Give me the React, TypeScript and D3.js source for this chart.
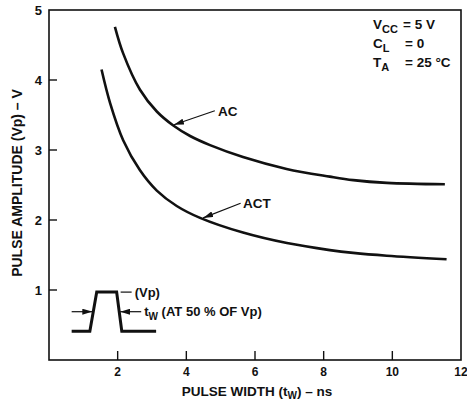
import React, { useEffect, useRef } from 'react';
import * as d3 from 'd3';

// CURVE DATA - PULSE WIDTH (ns) VS PULSE AMPLITUDE (V)
const acWidth = [1.92, 2.16, 2.65, 3.14, 3.62, 4.11, 4.69, 5.65, 6.92, 8.18, 8.86, 9.84, 11.53];
const acAmp = [4.76, 4.38, 3.86, 3.55, 3.35, 3.2, 3.07, 2.9, 2.73, 2.62, 2.57, 2.53, 2.51];
const actWidth = [1.53, 1.78, 2.16, 2.65, 3.14, 3.72, 4.4, 5.65, 6.93, 8.18, 8.86, 9.84, 11.58];
const actAmp = [4.15, 3.67, 3.14, 2.71, 2.42, 2.2, 2.03, 1.82, 1.67, 1.57, 1.53, 1.49, 1.44];

// TICKS
const xTicks = [2, 4, 6, 8, 10, 12];
const yTicks = [1, 2, 3, 4, 5];

// PULSE SKETCH IN THE LOWER LEFT CORNER (DATA UNITS)
const pulseX = [0.66, 1.19, 1.39, 1.97, 2.12, 3.12];
const pulseY = [0.41, 0.41, 0.97, 0.97, 0.41, 0.41];

const FONT = '"Liberation Sans", Arial, Helvetica, sans-serif';

export default function App() {
  const ref = useRef<SVGSVGElement>(null);

  useEffect(() => {
    const W = 467, H = 401;
    const margin = { top: 10, right: 6, bottom: 41, left: 49 };

    const svg = d3.select(ref.current);
    svg.selectAll('*').remove();

    const x = d3.scaleLinear().domain([0, 12]).range([margin.left, W - margin.right]);
    const y = d3.scaleLinear().domain([0, 5]).range([H - margin.bottom, margin.top]);

    // ARROW HEAD MARKER
    svg.append('defs').append('marker')
      .attr('id', 'head')
      .attr('viewBox', '0 0 10 6')
      .attr('refX', 10).attr('refY', 3)
      .attr('markerWidth', 10).attr('markerHeight', 6)
      .attr('markerUnits', 'userSpaceOnUse')
      .attr('orient', 'auto')
      .append('path').attr('d', 'M0,0 L10,3 L0,6 Z').attr('fill', '#111');

    // FRAME
    svg.append('rect')
      .attr('x', x(0)).attr('y', y(5))
      .attr('width', x(12) - x(0)).attr('height', y(0) - y(5))
      .attr('fill', 'none').attr('stroke', '#111').attr('stroke-width', 1.6);

    // TICKS
    svg.append('g').selectAll('line').data(xTicks.filter(d => d < 12)).join('line')
      .attr('x1', d => x(d)).attr('x2', d => x(d))
      .attr('y1', y(0)).attr('y2', y(0) - 9)
      .attr('stroke', '#111').attr('stroke-width', 1.4);
    svg.append('g').selectAll('line').data(yTicks.filter(d => d < 5)).join('line')
      .attr('x1', x(0)).attr('x2', x(0) + 8)
      .attr('y1', d => y(d)).attr('y2', d => y(d))
      .attr('stroke', '#111').attr('stroke-width', 1.4);

    // TICK LABELS
    svg.append('g').selectAll('text').data(xTicks).join('text')
      .attr('x', d => x(d)).attr('y', y(0) + 16)
      .attr('text-anchor', 'middle')
      .attr('font-family', FONT).attr('font-weight', 'bold').attr('font-size', 12)
      .attr('fill', '#111')
      .text(d => d);
    svg.append('g').selectAll('text').data(yTicks).join('text')
      .attr('x', x(0) - 7).attr('y', d => y(d) + 5)
      .attr('text-anchor', 'end')
      .attr('font-family', FONT).attr('font-weight', 'bold').attr('font-size', 13)
      .attr('fill', '#111')
      .text(d => d);

    // AXIS TITLES
    const xt = svg.append('text')
      .attr('x', 257).attr('y', 396)
      .attr('text-anchor', 'middle')
      .attr('font-family', FONT).attr('font-weight', 'bold').attr('font-size', 13.5)
      .attr('fill', '#111');
    xt.append('tspan').text('PULSE WIDTH (t');
    xt.append('tspan').attr('dy', 3).attr('font-size', 10).text('W');
    xt.append('tspan').attr('dy', -3).text(') – ns');

    svg.append('text')
      .attr('transform', 'translate(22,183) rotate(-90)')
      .attr('text-anchor', 'middle')
      .attr('font-family', FONT).attr('font-weight', 'bold').attr('font-size', 14)
      .attr('fill', '#111')
      .text('PULSE AMPLITUDE (Vp) – V');

    // CURVES
    const line = d3.line<[number, number]>()
      .x(d => x(d[0])).y(d => y(d[1]))
      .curve(d3.curveCatmullRom.alpha(0.5));
    const series = [
      acWidth.map((w, i) => [w, acAmp[i]] as [number, number]),
      actWidth.map((w, i) => [w, actAmp[i]] as [number, number]),
    ];
    svg.append('g').selectAll('path').data(series).join('path')
      .attr('d', d => line(d))
      .attr('fill', 'none').attr('stroke', '#111').attr('stroke-width', 2.6);

    // CURVE LABELS WITH ARROWS
    const labels = [
      { text: 'AC', from: [4.83, 3.56], to: [3.64, 3.36], at: [4.92, 3.49] },
      { text: 'ACT', from: [5.58, 2.24], to: [4.49, 2.03], at: [5.65, 2.17] },
    ];
    labels.forEach(l => {
      svg.append('line')
        .attr('x1', x(l.from[0])).attr('y1', y(l.from[1]))
        .attr('x2', x(l.to[0])).attr('y2', y(l.to[1]))
        .attr('stroke', '#111').attr('stroke-width', 1.2)
        .attr('marker-end', 'url(#head)');
      svg.append('text')
        .attr('x', x(l.at[0])).attr('y', y(l.at[1]))
        .attr('font-family', FONT).attr('font-weight', 'bold').attr('font-size', 13.5)
        .attr('fill', '#111')
        .text(l.text);
    });

    // CONDITIONS BLOCK
    const cond = [
      { main: 'V', sub: 'CC', rest: '= 5 V', eq: 403 },
      { main: 'C', sub: 'L', rest: '= 0', eq: 405 },
      { main: 'T', sub: 'A', rest: '= 25 °C', eq: 405 },
    ];
    cond.forEach((c, i) => {
      const t = svg.append('text')
        .attr('x', 373).attr('y', 29 + i * 19)
        .attr('font-family', FONT).attr('font-weight', 'bold').attr('font-size', 13.5)
        .attr('fill', '#111');
      t.append('tspan').text(c.main);
      t.append('tspan').attr('dy', 4).attr('font-size', 11).text(c.sub);
      t.append('tspan').attr('x', c.eq).attr('dy', -4).text(c.rest);
    });

    // PULSE SKETCH
    const pulse = pulseX.map((v, i) => [v, pulseY[i]] as [number, number]);
    svg.append('path')
      .attr('d', d3.line<[number, number]>().x(d => x(d[0])).y(d => y(d[1]))(pulse))
      .attr('fill', 'none').attr('stroke', '#111').attr('stroke-width', 3)
      .attr('stroke-linejoin', 'miter');

    // (Vp) LEADER
    const topY = y(pulseY[2]);
    svg.append('line')
      .attr('x1', x(pulseX[3]) + 4).attr('x2', x(pulseX[3]) + 15)
      .attr('y1', topY).attr('y2', topY)
      .attr('stroke', '#111').attr('stroke-width', 1.2);
    svg.append('text')
      .attr('x', x(pulseX[3]) + 18).attr('y', topY + 5)
      .attr('font-family', FONT).attr('font-weight', 'bold').attr('font-size', 13)
      .attr('fill', '#111')
      .text('(Vp)');

    // WIDTH ARROWS AT 50 %
    const midY = y((pulseY[0] + pulseY[2]) / 2);
    const riseMid = x((pulseX[1] + pulseX[2]) / 2);
    const fallMid = x((pulseX[3] + pulseX[4]) / 2);
    svg.append('line')
      .attr('x1', x(pulseX[0])).attr('x2', riseMid - 1)
      .attr('y1', midY).attr('y2', midY)
      .attr('stroke', '#111').attr('stroke-width', 1.2)
      .attr('marker-end', 'url(#head)');
    svg.append('line')
      .attr('x1', fallMid + 22).attr('x2', fallMid + 1)
      .attr('y1', midY).attr('y2', midY)
      .attr('stroke', '#111').attr('stroke-width', 1.2)
      .attr('marker-end', 'url(#head)');
    const tw = svg.append('text')
      .attr('x', fallMid + 25).attr('y', midY + 4)
      .attr('font-family', FONT).attr('font-weight', 'bold').attr('font-size', 13)
      .attr('fill', '#111');
    tw.append('tspan').text('t');
    tw.append('tspan').attr('dy', 4).attr('font-size', 10).text('W');
    tw.append('tspan').attr('dy', -4).text(' (AT 50 % OF Vp)');
  }, []);

  return (
    <svg
      ref={ref}
      width={467}
      height={401}
      style={{ position: 'absolute', left: 0, top: 0, background: '#fff' }}
    />
  );
}
